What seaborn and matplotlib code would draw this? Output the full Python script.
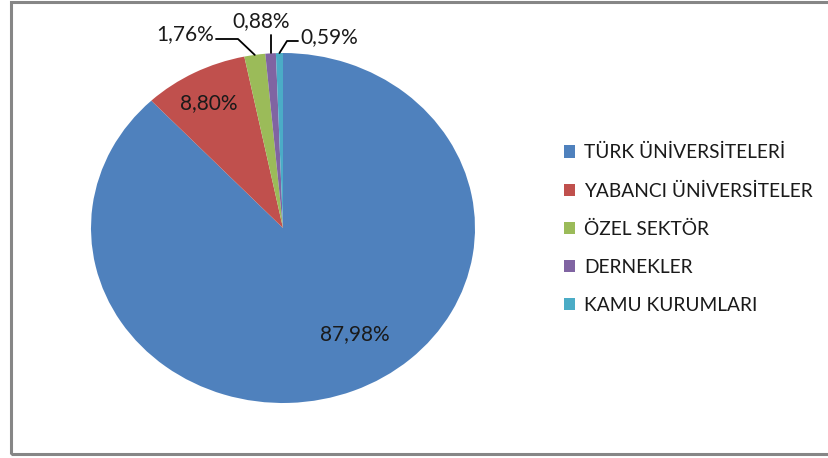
import matplotlib
matplotlib.use("Agg")
import matplotlib.pyplot as plt
from matplotlib.patches import Rectangle
import seaborn as sns
import numpy as np

# data
categories = ["TÜRK ÜNİVERSİTELERİ", "YABANCI ÜNİVERSİTELER", "ÖZEL SEKTÖR", "DERNEKLER", "KAMU KURUMLARI"]
values = [87.98, 8.80, 1.76, 0.88, 0.59]
labels = ["87,98%", "8,80%", "1,76%", "0,88%", "0,59%"]
colors = ["#4F81BD", "#C0504D", "#9BBB59", "#8064A2", "#4BACC6"]

sns.set_theme(style="white")
plt.rcParams["font.family"] = ["Lato", "DejaVu Sans"]

W, H = 829, 458
fig = plt.figure(figsize=(W / 100, H / 100), dpi=100)

# pie is drawn as an ellipse (Excel style): center (283,228), rx 192, ry 175 px
cx, cy, rx, ry = 283, 228, 192, 175
aw, ah = rx * 2.5, ry * 2.5
ax = fig.add_axes([(cx - aw / 2) / W, (H - cy - ah / 2) / H, aw / W, ah / H])

wedges, _ = ax.pie(values, colors=colors, startangle=90, counterclock=False,
                   wedgeprops=dict(linewidth=0))
ax.set_aspect("auto")
ax.set_xlim(-1.25, 1.25)
ax.set_ylim(-1.25, 1.25)
ax.axis("off")


def px2d(px, py):
    return (px - cx) / rx, (cy - py) / ry


def edge(w):
    a = np.deg2rad((w.theta1 + w.theta2) / 2)
    return np.cos(a), np.sin(a)


fs = 15
tc = "#1a1a1a"
# inside labels
ax.text(*px2d(355, 334), labels[0], ha="center", va="center", fontsize=fs, color=tc)
ax.text(*px2d(209, 103), labels[1], ha="center", va="center", fontsize=fs, color=tc)

# outside labels with leader lines
lc = "black"
ex, ey = edge(wedges[2])
ax.plot([px2d(216, 39)[0], px2d(238, 39)[0], ex], [px2d(216, 39)[1], px2d(238, 39)[1], ey],
        color=lc, lw=1.3, clip_on=False)
ax.text(*px2d(214, 34), labels[2], ha="right", va="center", fontsize=fs, color=tc)

ex, ey = edge(wedges[3])
ax.plot([ex, ex], [px2d(0, 35)[1], ey], color=lc, lw=1.3, clip_on=False)
ax.text(*px2d(261, 21), labels[3], ha="center", va="center", fontsize=fs, color=tc)

ex, ey = edge(wedges[4])
ax.plot([px2d(298, 41)[0], px2d(287, 41)[0], ex], [px2d(298, 41)[1], px2d(287, 41)[1], ey],
        color=lc, lw=1.3, clip_on=False)
ax.text(*px2d(300, 37), labels[4], ha="left", va="center", fontsize=fs, color=tc)

# legend
handles = [Rectangle((0, 0), 1, 1, facecolor=c, edgecolor="none") for c in colors]
fig.legend(handles, categories, loc="center left", bbox_to_anchor=(564 / W, 1 - 229 / H),
           frameon=False, fontsize=13.8, handlelength=0.6, handleheight=0.6,
           handletextpad=0.45, labelspacing=1.1, borderaxespad=0, borderpad=0,
           labelcolor=tc)

# outer chart frame (cut on the right)
fig.patches.append(Rectangle((11 / W, 1 - 454 / H), 1.0, (452) / H, transform=fig.transFigure,
                             fill=False, edgecolor="#868686", linewidth=2.2, clip_on=False))

fig.savefig("out.png", dpi=100, facecolor="white")
